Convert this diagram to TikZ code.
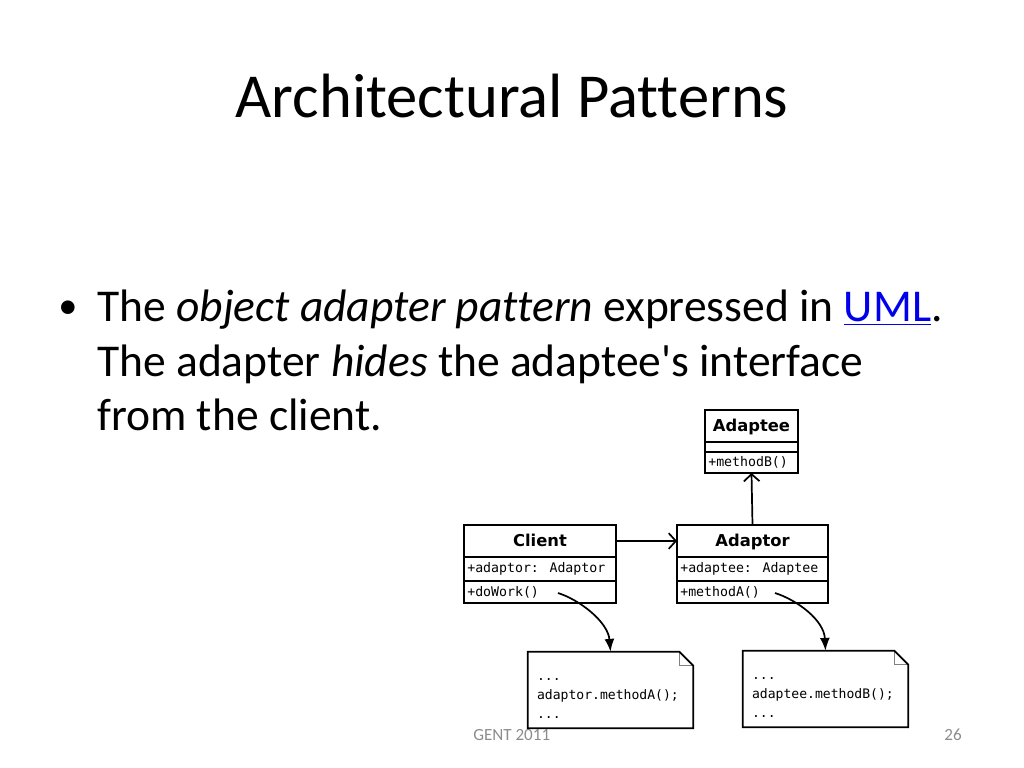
\documentclass[tikz,border=0pt]{standalone}
\usepackage{fontspec}
\setmainfont{Carlito}
\newfontfamily\slidefont{Carlito}[Ligatures=NoCommon]
\newfontfamily\umlfont{DejaVu Sans}
\newfontfamily\codefont{DejaVu Sans Mono}
\usetikzlibrary{arrows.meta,calc}

\definecolor{linkblue}{RGB}{0,0,235}
\definecolor{footgray}{RGB}{140,140,140}

\begin{document}
\begin{tikzpicture}[x=0.703125pt,y=-0.703125pt,>=Latex,
	classhead/.style={draw,line width=1.2pt,inner sep=0pt,outer sep=0pt,minimum width=#1*0.703125pt,minimum height=32*0.703125pt,text height=8.3pt,text depth=0pt,font=\umlfont\bfseries\fontsize{11.5}{13}\selectfont},
	classpart/.style={draw,line width=1.2pt,inner sep=0pt,outer sep=0pt,minimum width=#1*0.703125pt,anchor=north},
	member/.style={anchor=west,inner sep=0pt,font=\codefont\fontsize{9.3}{11}\selectfont},
	notebox/.style={inner sep=0pt,minimum width=165*0.703125pt,minimum height=76*0.703125pt},
	codetext/.style={inner sep=0pt,text width=147*0.703125pt,align=left,font=\codefont\fontsize{9.2}{13.2}\selectfont},
	assoc/.style={line width=1.2pt,-{Straight Barb[length=5pt,width=11pt,line width=1.2pt]}},
	calls/.style={line width=1.2pt,-{Latex[length=9pt,width=7pt]}}]

\useasboundingbox (0,0) rectangle (1024,768);

\node[anchor=base,font=\slidefont\fontsize{44}{52}\selectfont] (title) at (512,118) {Architectural Patterns};

\node[font=\slidefont\fontsize{27}{32}\selectfont] (dot) at (68,310) {\textbullet};
\node[anchor=base west,inner sep=0pt,font=\slidefont\fontsize{32}{38}\selectfont] (line1) at (97,322)
	{The \textit{object adapter pattern} expressed in \textcolor{linkblue}{\underline{UML}}.};
\node[anchor=base west,inner sep=0pt,font=\slidefont\fontsize{32}{38}\selectfont] (line2) at (97,376)
	{The adapter \textit{hides} the adaptee's interface};
\node[anchor=base west,inner sep=0pt,font=\slidefont\fontsize{32}{38}\selectfont] (line3) at (97,430)
	{from the client.};

\node[anchor=base west,inner sep=0pt,text=footgray,font=\slidefont\fontsize{12}{14}\selectfont] (foot) at (473,740) {GENT 2011};
\node[anchor=base east,inner sep=0pt,text=footgray,font=\slidefont\fontsize{12}{14}\selectfont] (page) at (962,740) {26};

\node[classhead=93] (adaptee) at (751.5,426) {Adaptee};
\node[classpart=93,minimum height=10*0.703125pt] (adapteeattr) at (adaptee.south) {};
\node[classpart=93,minimum height=21*0.703125pt] (adapteeop) at (adapteeattr.south) {};
\node[member] (methodb) at ([xshift=3*0.703125pt]adapteeop.west) {+methodB()};

\node[classhead=152] (client) at (540,541) {Client};
\node[classpart=152,minimum height=24*0.703125pt] (clientattr) at (client.south) {};
\node[classpart=152,minimum height=22*0.703125pt] (clientop) at (clientattr.south) {};
\node[member] (adaptorref) at ([xshift=3*0.703125pt]clientattr.west) {+adaptor: Adaptor};
\node[member] (dowork) at ([xshift=3*0.703125pt]clientop.west) {+doWork()};

\node[classhead=151] (adaptor) at (752.5,541) {Adaptor};
\node[classpart=151,minimum height=24*0.703125pt] (adaptorattr) at (adaptor.south) {};
\node[classpart=151,minimum height=22*0.703125pt] (adaptorop) at (adaptorattr.south) {};
\node[member] (adapteeref) at ([xshift=3*0.703125pt]adaptorattr.west) {+adaptee: Adaptee};
\node[member] (methoda) at ([xshift=3*0.703125pt]adaptorop.west) {+methodA()};

\draw[assoc] (client.east) -- (adaptor.west);
\draw[assoc] (adaptor.north) -- (adapteeop.south);

\node[notebox] (note1) at (610.5,690) {};
\node[notebox] (note2) at (825.5,689) {};

\foreach \n in {note1,note2}{
	\fill[white] (\n.south west) |- ($(\n.north east)+(-14,0)$) -- ($(\n.north east)+(0,14)$) |- cycle;
	\draw[line width=0.6pt,color=gray] ($(\n.north east)+(-14,0)$) |- ($(\n.north east)+(0,14)$);
	\draw[line width=1.2pt,line join=miter] (\n.south west) |- ($(\n.north east)+(-14,0)$) -- ($(\n.north east)+(0,14)$) |- cycle;
}
\node[codetext] (code1) at ([yshift=-6pt]note1.center) {...\\adaptor.methodA();\\...};
\node[codetext] (code2) at ([yshift=-6pt]note2.center) {...\\adaptee.methodB();\\...};

\coordinate (workend) at (558,593);
\coordinate (aend) at (775,593);
\draw[calls] (workend) .. controls (580,600) and (608,622) .. (note1.north);
\draw[calls] (aend) .. controls (797,600) and (824,620) .. (note2.north);

\end{tikzpicture}
\end{document}
